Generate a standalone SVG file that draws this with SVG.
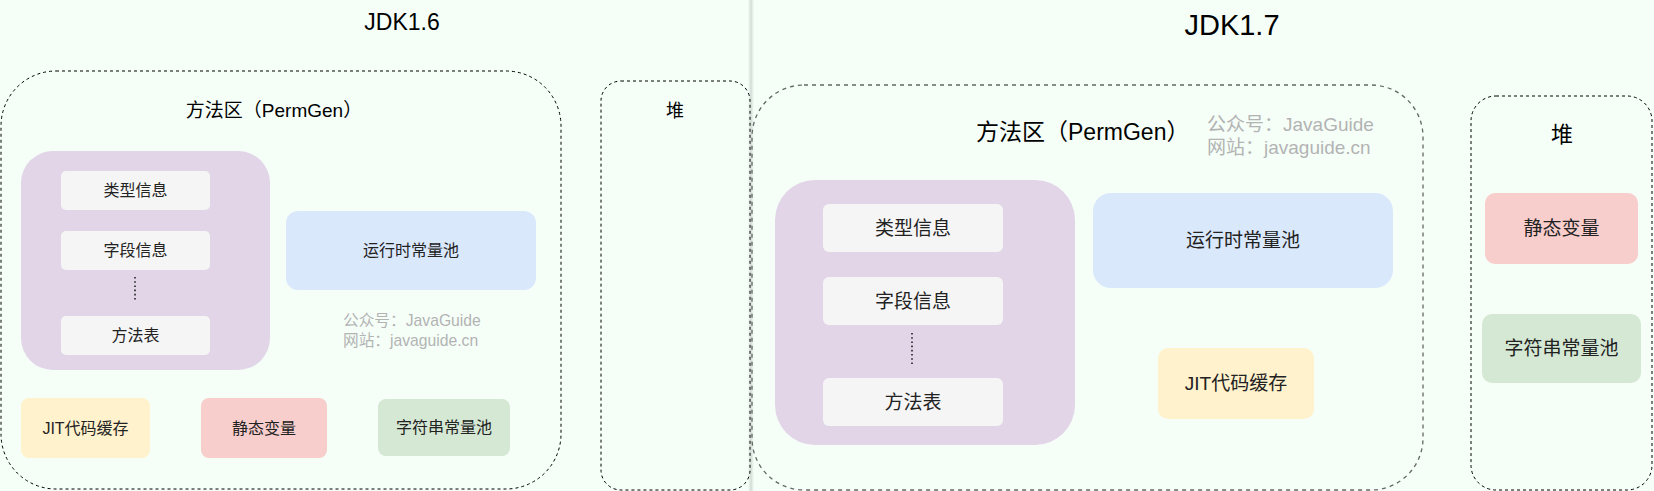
<svg xmlns="http://www.w3.org/2000/svg" width="1654" height="491" viewBox="0 0 1654 491">
<defs>
<linearGradient id="sep" x1="0" y1="0" x2="1" y2="0">
<stop offset="0" stop-color="#000" stop-opacity="0"/>
<stop offset="0.5" stop-color="#000" stop-opacity="0.14"/>
<stop offset="1" stop-color="#000" stop-opacity="0"/>
</linearGradient>
</defs>
<style>
text{font-family:"Liberation Sans","Noto Sans CJK SC",sans-serif;}
.lbl{text-anchor:middle;dominant-baseline:central;fill:#222;}
.title{text-anchor:middle;fill:#000;}
.wm{fill:#b3b3b3;}
.zone{fill:none;stroke:#000;stroke-width:1;stroke-dasharray:3 3;}
.zone2{fill:none;stroke:#666;stroke-width:1.3;stroke-dasharray:4 4;}
.purple{fill:#e1d5e7;}
.inner{fill:#f5f5f5;}
.blue{fill:#dae8fc;}
.yellow{fill:#fff2cc;}
.red{fill:#f8cecc;}
.green{fill:#d5e8d4;}
.dots{stroke:#222;stroke-width:1.6;stroke-dasharray:1.6 2.6;fill:none;}
</style>
<rect x="0" y="0" width="1654" height="491" fill="#f5fff8"/>

<!-- JDK 1.6 -->
<text class="title" x="402" y="30" font-size="23">JDK1.6</text>

<g id="method-area-16">
<rect class="zone" x="1" y="71" width="560" height="418" rx="55"/>
<text class="title" x="274" y="117" font-size="19">方法区（PermGen）</text>
</g>
<g id="class-meta-16">
<rect class="purple" x="21" y="151" width="249" height="219" rx="32"/>
</g>
<g id="type-info-16">
<rect class="inner" x="61" y="171" width="149" height="39" rx="5"/>
<text class="lbl" x="135.5" y="190.5" font-size="16">类型信息</text>
</g>
<g id="field-info-16">
<rect class="inner" x="61" y="231" width="149" height="39" rx="5"/>
<text class="lbl" x="135.5" y="250.5" font-size="16">字段信息</text>
</g>
<g id="method-table-16">
<rect class="inner" x="61" y="316" width="149" height="39" rx="5"/>
<text class="lbl" x="135.5" y="335.5" font-size="16">方法表</text>
</g>
<g id="runtime-pool-16">
<rect class="blue" x="286" y="211" width="250" height="79" rx="12"/>
<text class="lbl" x="411" y="250.5" font-size="16">运行时常量池</text>
</g>
<g id="watermark-16">
<text class="wm" x="343" y="326" font-size="15.7">公众号：JavaGuide</text>
<text class="wm" x="343" y="346" font-size="15.7">网站：javaguide.cn</text>
</g>
<g id="jit-16">
<rect class="yellow" x="21" y="398" width="129" height="60" rx="8"/>
<text class="lbl" x="85.5" y="428" font-size="16">JIT代码缓存</text>
</g>
<g id="static-16">
<rect class="red" x="201" y="398" width="126" height="60" rx="8"/>
<text class="lbl" x="264" y="428" font-size="16">静态变量</text>
</g>
<g id="string-pool-16">
<rect class="green" x="378" y="399" width="132" height="57" rx="8"/>
<text class="lbl" x="444" y="427.5" font-size="16">字符串常量池</text>
</g>
<g id="heap-16">
<rect class="zone" x="601" y="81" width="149" height="409" rx="20"/>
<text class="title" x="675" y="117" font-size="18">堆</text>
</g>

<!-- separator -->
<rect x="748" y="0" width="6" height="491" fill="url(#sep)"/>

<!-- JDK 1.7 -->
<text class="title" x="1232" y="35" font-size="29">JDK1.7</text>

<g id="method-area-17">
<rect class="zone2" x="752" y="85" width="671" height="405" rx="52"/>
<text x="976" y="140" font-size="23" fill="#000">方法区（PermGen）</text>
</g>
<g id="watermark-17">
<text class="wm" x="1207" y="131" font-size="19">公众号：JavaGuide</text>
<text class="wm" x="1207" y="154" font-size="19">网站：javaguide.cn</text>
</g>
<g id="class-meta-17">
<rect class="purple" x="775" y="180" width="300" height="265" rx="40"/>
</g>
<g id="type-info-17">
<rect class="inner" x="823" y="204" width="180" height="48" rx="6"/>
<text class="lbl" x="913" y="228" font-size="19">类型信息</text>
</g>
<g id="field-info-17">
<rect class="inner" x="823" y="277" width="180" height="48" rx="6"/>
<text class="lbl" x="913" y="301" font-size="19">字段信息</text>
</g>
<g id="method-table-17">
<rect class="inner" x="823" y="378" width="180" height="48" rx="6"/>
<text class="lbl" x="913" y="402" font-size="19">方法表</text>
</g>
<g id="runtime-pool-17">
<rect class="blue" x="1093" y="193" width="300" height="95" rx="18"/>
<text class="lbl" x="1243" y="240.5" font-size="19">运行时常量池</text>
</g>
<g id="jit-17">
<rect class="yellow" x="1158" y="348" width="156" height="71" rx="10"/>
<text class="lbl" x="1236" y="383.5" font-size="19">JIT代码缓存</text>
</g>
<g id="heap-17">
<rect class="zone" x="1471" y="96" width="181" height="394" rx="25"/>
<text class="title" x="1562" y="142" font-size="22">堆</text>
</g>
<g id="static-17">
<rect class="red" x="1485" y="193" width="153" height="71" rx="10"/>
<text class="lbl" x="1561.5" y="228.5" font-size="19">静态变量</text>
</g>
<g id="string-pool-17">
<rect class="green" x="1482" y="314" width="159" height="69" rx="10"/>
<text class="lbl" x="1561.5" y="348.5" font-size="19">字符串常量池</text>
</g>

<g id="connectors">
<line class="dots" x1="135" y1="277" x2="135" y2="302"/>
<line class="dots" x1="912" y1="333" x2="912" y2="364"/>
</g>
</svg>
